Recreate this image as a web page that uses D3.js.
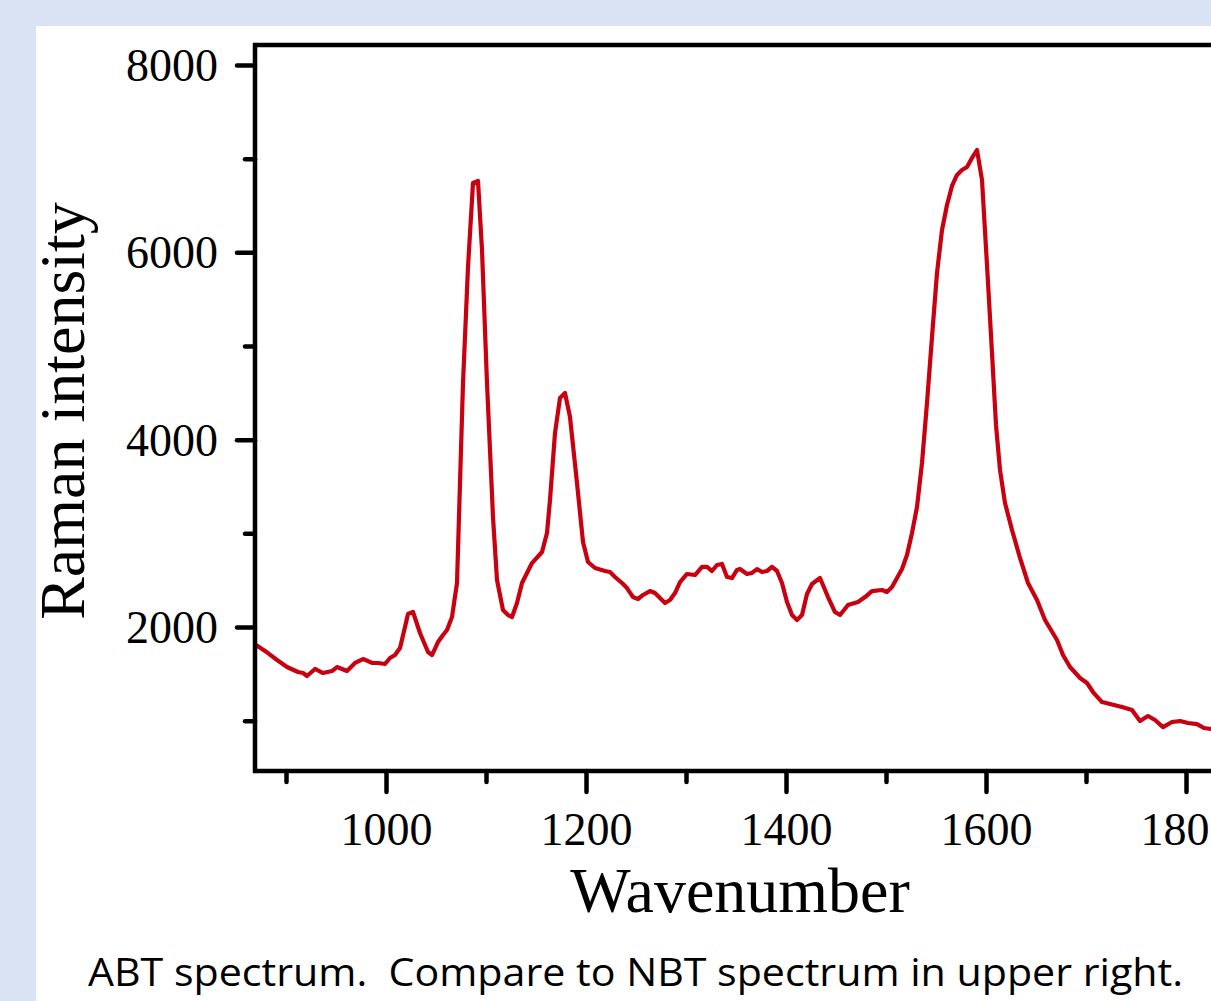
<!DOCTYPE html>
<html>
<head>
<meta charset="utf-8">
<script src="https://cdn.jsdelivr.net/npm/d3@7"></script>
<style>
  html, body { margin: 0; padding: 0; background: #dae3f3; }
  svg { display: block; }
</style>
</head>
<body>
<script>
// ABT Raman spectrum: wavenumber (cm-1) and intensity samples
const wavenumber = [
  870, 876, 882, 891, 901, 912, 917, 921, 929, 937, 946, 951, 961, 969, 977, 982, 986, 992, 999,
  1004, 1009, 1014, 1019, 1022, 1027, 1034, 1042, 1046, 1052, 1057, 1061, 1066, 1071, 1074, 1077,
  1082, 1087, 1092, 1096, 1101, 1107, 1111, 1117, 1122, 1126, 1131, 1136, 1146, 1156, 1161, 1164,
  1169, 1174, 1179, 1184, 1191, 1197, 1202, 1209, 1219, 1224, 1229, 1236, 1241, 1247, 1252, 1257,
  1264, 1269, 1274, 1279, 1284, 1289, 1294, 1301, 1309, 1316, 1321, 1326, 1331, 1336, 1341, 1346,
  1351, 1354, 1361, 1366, 1371, 1376, 1381, 1386, 1391, 1396, 1401, 1406, 1411, 1416, 1421, 1426,
  1434, 1442, 1449, 1454, 1462, 1472, 1479, 1486, 1496, 1501, 1506, 1511, 1516, 1521, 1526, 1531,
  1536, 1541, 1546, 1551, 1556, 1561, 1566, 1571, 1576, 1581, 1586, 1591, 1596, 1601, 1606, 1610,
  1614, 1619, 1626, 1634, 1642, 1651, 1659, 1671, 1677, 1684, 1694, 1701, 1707, 1716, 1724, 1736,
  1746, 1754, 1762, 1769, 1777, 1786, 1794, 1802, 1811, 1818, 1825
];
const intensity = [
  1808, 1765, 1722, 1648, 1573, 1520, 1509, 1477, 1552, 1509, 1530, 1573, 1530, 1616, 1658, 1637, 1616, 1616, 1605,
  1669, 1701, 1776, 2000, 2139, 2160, 1936, 1733, 1701, 1840, 1915, 1968, 2107, 2470, 3537, 4605,
  5843, 6740, 6761, 6025, 4605, 3174, 2502, 2181, 2128, 2107, 2256, 2470, 2683, 2801, 3004, 3356,
  4071, 4445, 4498, 4242, 3537, 2907, 2694, 2630, 2598, 2587, 2534, 2470, 2416, 2320, 2299, 2342,
  2384, 2363, 2310, 2256, 2288, 2363, 2480, 2566, 2555, 2641, 2641, 2598, 2662, 2673, 2534, 2523,
  2609, 2619, 2566, 2577, 2619, 2587, 2598, 2641, 2598, 2470, 2267, 2128, 2075, 2128, 2352, 2459,
  2523, 2320, 2160, 2128, 2235, 2267, 2320, 2384, 2395, 2374, 2427, 2523, 2619, 2769, 3004, 3281,
  3751, 4391, 5096, 5779, 6238, 6505, 6708, 6826, 6879, 6911, 7007, 7092, 6772, 5865, 4925, 4157,
  3676, 3324, 3036, 2737, 2470, 2288, 2075, 1861, 1701, 1573, 1456, 1402, 1306, 1199, 1178, 1146,
  1114, 996, 1050, 1007, 932, 986, 996, 975, 964, 922, 911
];

// Axis ticks
const xMajorTicks = [1000, 1200, 1400, 1600, 1800];
const xMinorTicks = [900, 1100, 1300, 1500, 1700];
const yMajorTicks = [2000, 4000, 6000, 8000];
const yMinorTicks = [1000, 3000, 5000, 7000];

// Texts
const xTitle = "Wavenumber";
const yTitle = "Raman intensity";
const caption = "ABT spectrum.  Compare to NBT spectrum in upper right.";

const W = 1211, H = 1001;
const plot = { left: 255, top: 45, right: 1286, bottom: 771 };

const svg = d3.select("body").append("svg")
  .attr("width", W).attr("height", H);

// page background and white card
svg.append("rect").attr("width", W).attr("height", H).attr("fill", "#dae3f3");
svg.append("rect").attr("x", 36).attr("y", 26).attr("width", W - 36).attr("height", H - 26).attr("fill", "#ffffff");

const x = d3.scaleLinear().domain([869, 1900]).range([plot.left, plot.right]);
const y = d3.scaleLinear().domain([463, 8213]).range([plot.bottom, plot.top]);

const serif = "'Liberation Serif', 'Times New Roman', serif";

// clip the spectrum to the plotting frame
svg.append("defs").append("clipPath").attr("id", "plotClip")
  .append("rect")
  .attr("x", plot.left).attr("y", plot.top)
  .attr("width", plot.right - plot.left).attr("height", plot.bottom - plot.top);

const series = wavenumber.map((w, i) => ({ w, v: intensity[i] }));
const line = d3.line().x(d => x(d.w)).y(d => y(d.v));

svg.append("path")
  .datum(series)
  .attr("clip-path", "url(#plotClip)")
  .attr("fill", "none")
  .attr("stroke", "#c8000f")
  .attr("stroke-width", 4.2)
  .attr("stroke-linejoin", "round")
  .attr("stroke-linecap", "round")
  .attr("d", line);

// bottom axis: major ticks with labels, minor ticks without
function styleAxis(g) {
  g.select(".domain").remove();
  g.selectAll(".tick line")
    .attr("stroke", "#000")
    .attr("stroke-width", 4.5)
    .attr("stroke-linecap", "round");
}

const gxMajor = svg.append("g").attr("transform", `translate(0,${plot.bottom})`)
  .call(d3.axisBottom(x).tickValues(xMajorTicks).tickSize(21).tickPadding(20).tickFormat(d3.format("d")));
styleAxis(gxMajor);
gxMajor.selectAll(".tick text")
  .attr("font-family", serif).attr("font-size", 46).attr("fill", "#000");

const gxMinor = svg.append("g").attr("transform", `translate(0,${plot.bottom})`)
  .call(d3.axisBottom(x).tickValues(xMinorTicks).tickSize(11).tickFormat(""));
styleAxis(gxMinor);

const gyMajor = svg.append("g").attr("transform", `translate(${plot.left},0)`)
  .call(d3.axisLeft(y).tickValues(yMajorTicks).tickSize(18).tickPadding(19).tickFormat(d3.format("d")));
styleAxis(gyMajor);
gyMajor.selectAll(".tick text")
  .attr("font-family", serif).attr("font-size", 46).attr("fill", "#000").attr("dy", "0.34em");

const gyMinor = svg.append("g").attr("transform", `translate(${plot.left},0)`)
  .call(d3.axisLeft(y).tickValues(yMinorTicks).tickSize(10).tickFormat(""));
styleAxis(gyMinor);

// frame (right side runs past the page edge)
svg.append("rect")
  .attr("x", plot.left).attr("y", plot.top)
  .attr("width", plot.right - plot.left).attr("height", plot.bottom - plot.top)
  .attr("fill", "none").attr("stroke", "#000").attr("stroke-width", 4.5);

// axis titles
svg.append("text")
  .attr("x", 740).attr("y", 912)
  .attr("text-anchor", "middle")
  .attr("font-family", serif).attr("font-size", 64).attr("fill", "#000")
  .text(xTitle);

svg.append("text")
  .attr("transform", "translate(84,411) rotate(-90)")
  .attr("text-anchor", "middle")
  .attr("font-family", serif).attr("font-size", 64).attr("fill", "#000")
  .text(yTitle);

// caption
svg.append("text")
  .attr("x", 88).attr("y", 986)
  .attr("font-family", "'Open Sans', 'Noto Sans', sans-serif")
  .attr("font-size", 38).attr("fill", "#000")
  .style("white-space", "pre")
  .attr("textLength", 1095).attr("lengthAdjust", "spacingAndGlyphs")
  .text(caption);
</script>
</body>
</html>
